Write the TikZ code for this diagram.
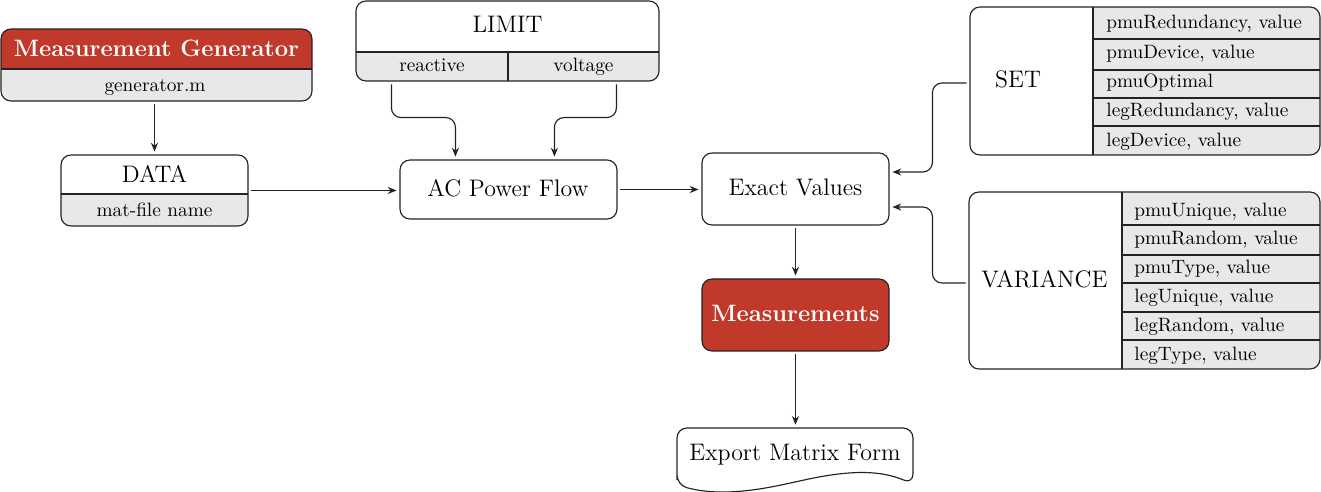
\documentclass[tikz,border=0pt]{standalone}
\usetikzlibrary{fit,calc,arrows.meta}
\definecolor{mred}{RGB}{192,57,43}
\definecolor{mgray}{RGB}{231,232,234}
\definecolor{mline}{RGB}{35,35,35}
\begin{document}
\begin{tikzpicture}[x=0.523pt,y=-0.523pt,
  boxframe/.style={draw=mline, line width=0.6pt, rounded corners=5.2pt, inner sep=0pt},
  rr/.style={rounded corners=5.2pt},
  divline/.style={draw=mline, line width=0.6pt},
  bigtxt/.style={font=\fontsize{12.5}{14}\selectfont, inner sep=0pt, anchor=base},
  boldtxt/.style={font=\fontsize{12.4}{14}\selectfont\bfseries, text=white, inner sep=0pt, anchor=base},
  smalltxt/.style={font=\fontsize{10.1}{12}\selectfont, inner sep=0pt, anchor=base},
  rowtxt/.style={smalltxt, anchor=base west},
  arr/.style={-{Stealth[length=4.6pt,width=3.7pt]}, line width=0.6pt, draw=mline, shorten <=1.5pt, shorten >=1.5pt},
  roundpath/.style={rounded corners=5pt}]
\useasboundingbox (0,0) rectangle (1321,492);

% ---------- fills ----------
\begin{scope}
  \clip[rr] (1,29) rectangle (312,101);
  \fill[mred] (1,29) rectangle (312,69);
  \fill[mgray] (1,69) rectangle (312,101);
\end{scope}
\begin{scope}
  \clip[rr] (61,155) rectangle (248,226);
  \fill[mgray] (61,194) rectangle (248,226);
\end{scope}
\begin{scope}
  \clip[rr] (356,1) rectangle (659,81);
  \fill[mgray] (356,52) rectangle (659,81);
\end{scope}
\begin{scope}
  \clip[rr] (970,7) rectangle (1320,155);
  \fill[mgray] (1093,7) rectangle (1320,155);
\end{scope}
\begin{scope}
  \clip[rr] (969,192) rectangle (1320,369);
  \fill[mgray] (1122,192) rectangle (1320,369);
\end{scope}
\fill[mred, rr] (702,279) rectangle (889,351);

% ---------- dividers ----------
\draw[divline] (1,69) -- (312,69);
\draw[divline] (61,194) -- (248,194);
\draw[divline] (356,52) -- (659,52);
\draw[divline] (508,52) -- (508,81);
\draw[divline] (1093,7) -- (1093,155);
\foreach \yy in {39,70,98,126} \draw[divline] (1093,\yy) -- (1320,\yy);
\draw[divline] (1122,192) -- (1122,369);
\foreach \yy in {225,255,283,312,340} \draw[divline] (1122,\yy) -- (1320,\yy);

% ---------- frames ----------
\node[boxframe, fit={(1,29)(312,101)}] (gen) {};
\node[boxframe, fit={(61,155)(248,226)}] (data) {};
\node[boxframe, fit={(356,1)(659,81)}] (limit) {};
\node[boxframe, fit={(400,160)(617,219)}] (ac) {};
\node[boxframe, fit={(702,153)(889,225)}] (exact) {};
\node[boxframe, fit={(702,279)(889,351)}] (meas) {};
\node[boxframe, fit={(970,7)(1320,155)}] (set) {};
\node[boxframe, fit={(969,192)(1320,369)}] (var) {};
\node[inner sep=0pt, fit={(677,428)(913,490)}] (export) {};
\draw[divline, rounded corners=5.2pt] (677,470) -- (677,428) -- (913,428) -- (913,484)
  .. controls (880,470) and (850,470) .. (795,482)
  .. controls (740,494) and (710,494) .. (677,485) -- cycle;

% ---------- texts ----------
\node[boldtxt] (gent) at (156.5,57) {Measurement Generator};
\node[smalltxt] (genf) at (155,92) {generator.m};
\node[bigtxt] (datat) at (154.5,183) {DATA};
\node[smalltxt] (dataf) at (154.5,217) {mat-file name};
\node[bigtxt] (limitt) at (507.5,33) {LIMIT};
\node[smalltxt] (react) at (432,72) {reactive};
\node[smalltxt] (volt) at (583.5,72) {voltage};
\node[bigtxt] (act) at (508,197) {AC Power Flow};
\node[bigtxt] (exactt) at (795.5,196) {Exact Values};
\node[boldtxt] (meast) at (795.5,322) {Measurements};
\node[bigtxt] (exportt) at (795,461) {Export Matrix Form};
\node[bigtxt] (sett) at (1018,88) {SET};
\node[bigtxt] (vart) at (1044.5,288) {VARIANCE};

\node[rowtxt] (s1) at (1106,28.5) {pmuRedundancy, value};
\node[rowtxt] (s2) at (1106,58.5) {pmuDevice, value};
\node[rowtxt] (s3) at (1106,88) {pmuOptimal};
\node[rowtxt] (s4) at (1106,117) {legRedundancy, value};
\node[rowtxt] (s5) at (1106,146.5) {legDevice, value};

\node[rowtxt] (v1) at (1134,216.5) {pmuUnique, value};
\node[rowtxt] (v2) at (1134,245) {pmuRandom, value};
\node[rowtxt] (v3) at (1134,274) {pmuType, value};
\node[rowtxt] (v4) at (1134,303) {legUnique, value};
\node[rowtxt] (v5) at (1134,332) {legRandom, value};
\node[rowtxt] (v6) at (1134,361) {legType, value};

% ---------- connectors ----------
\draw[arr] (gen.south -| data.north) -- (data.north);
\draw[arr] (data.east) -- (data.east -| ac.west);
\draw[arr, roundpath] ($(limit.south west)+(36,0)$) -- ++(0,36) -| ($(ac.north west)+(56,0)$);
\draw[arr, roundpath] ($(limit.south west)+(261,0)$) -- ++(0,36) -| ($(ac.north west)+(155,0)$);
\draw[arr] (ac.east) -- (ac.east -| exact.west);
\draw[arr, roundpath] ($(set.west)+(0,2)$) -- ++(-37,0) |- ($(exact.east)+(0,-17)$);
\draw[arr, roundpath] ($(var.west)+(0,2.5)$) -- ++(-36,0) |- ($(exact.east)+(0,18)$);
\draw[arr] (exact.south) -- (meas.north);
\draw[arr] (meas.south) -- (meas.south |- export.north);
\end{tikzpicture}
\end{document}
